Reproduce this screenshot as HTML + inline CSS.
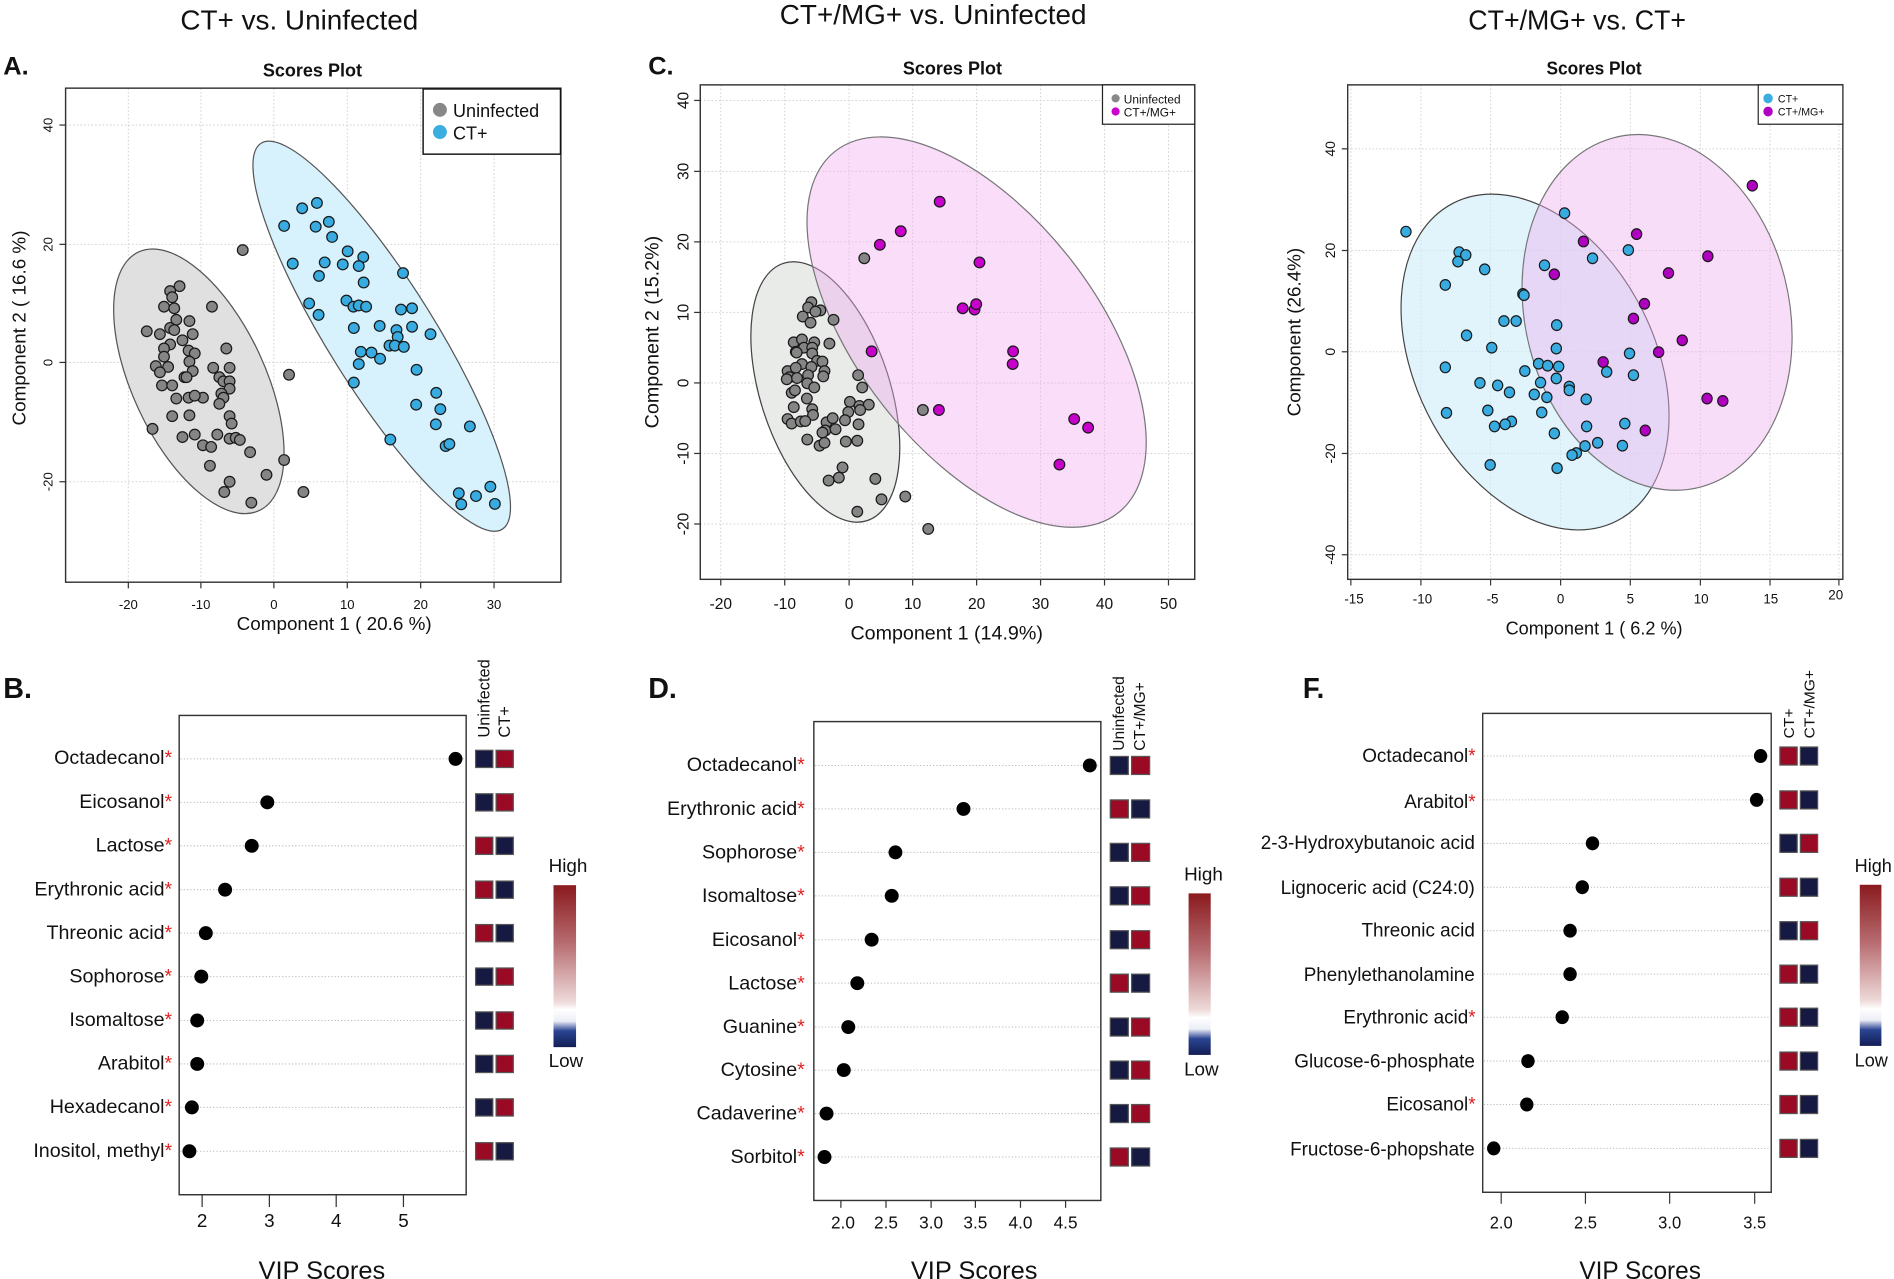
<!DOCTYPE html>
<html><head><meta charset="utf-8"><style>
html,body{margin:0;padding:0;background:#fff}
svg{display:block}
text{font-family:"Liberation Sans",sans-serif;fill:#111}
.grid{stroke:#d4d4d4;stroke-width:2.5;stroke-dasharray:4 5}
.row{stroke:#bbb;stroke-width:2.5;stroke-dasharray:3 5}
.box{fill:none;stroke:#333;stroke-width:3.5}
.red{fill:#e02020}
</style></head><body>
<svg id="s" width="1894" height="1279" viewBox="0 0 1894 1279" xmlns="http://www.w3.org/2000/svg">
<defs>
<linearGradient id="cb" x1="0" y1="0" x2="0" y2="1">
<stop offset="0" stop-color="#8a1a1e"/><stop offset="0.35" stop-color="#b66a6e"/>
<stop offset="0.72" stop-color="#eedada"/><stop offset="0.77" stop-color="#ffffff"/>
<stop offset="0.84" stop-color="#eceef6"/><stop offset="0.86" stop-color="#aab3d4"/>
<stop offset="0.9" stop-color="#2b4592"/><stop offset="1" stop-color="#121d55"/>
</linearGradient>
</defs>

<!-- Panel A -->
<g transform="translate(0,0) scale(0.41)" id="gA">
<text x="730" y="72" font-size="68" text-anchor="middle">CT+ vs. Uninfected</text>
<text x="8" y="182" font-size="62" font-weight="bold">A.</text>
<text x="762" y="186" font-size="44" font-weight="bold" text-anchor="middle">Scores Plot</text>
<g class="grid">
<line x1="313" y1="215" x2="313" y2="1420"/><line x1="490" y1="215" x2="490" y2="1420"/><line x1="668" y1="215" x2="668" y2="1420"/><line x1="847" y1="215" x2="847" y2="1420"/><line x1="1026" y1="215" x2="1026" y2="1420"/><line x1="1205" y1="215" x2="1205" y2="1420"/>
<line x1="160" y1="305" x2="1368" y2="305"/><line x1="160" y1="596" x2="1368" y2="596"/><line x1="160" y1="884" x2="1368" y2="884"/><line x1="160" y1="1175" x2="1368" y2="1175"/>
</g>
<ellipse cx="485" cy="930" rx="348" ry="162" transform="rotate(65 485 930)" fill="#e0e0e0" stroke="#555" stroke-width="3"/>
<ellipse cx="931" cy="820" rx="555" ry="130" transform="rotate(58 931 820)" fill="#d8f2fd" stroke="#555" stroke-width="3"/>
<g id="pA"></g>
<rect x="160" y="215" width="1208" height="1205" class="box"/>
<g stroke="#333" stroke-width="3"><line x1="313" y1="1420" x2="313" y2="1435"/><line x1="490" y1="1420" x2="490" y2="1435"/><line x1="668" y1="1420" x2="668" y2="1435"/><line x1="847" y1="1420" x2="847" y2="1435"/><line x1="1026" y1="1420" x2="1026" y2="1435"/><line x1="1205" y1="1420" x2="1205" y2="1435"/>
<line x1="145" y1="305" x2="160" y2="305"/><line x1="145" y1="596" x2="160" y2="596"/><line x1="145" y1="884" x2="160" y2="884"/><line x1="145" y1="1175" x2="160" y2="1175"/></g>
<g font-size="32" text-anchor="middle">
<text x="313" y="1485">-20</text><text x="490" y="1485">-10</text><text x="668" y="1485">0</text><text x="847" y="1485">10</text><text x="1026" y="1485">20</text><text x="1205" y="1485">30</text>
<text transform="translate(128,305) rotate(-90)">40</text><text transform="translate(128,596) rotate(-90)">20</text><text transform="translate(128,884) rotate(-90)">0</text><text transform="translate(128,1175) rotate(-90)">-20</text>
</g>
<text x="815" y="1537" font-size="46" text-anchor="middle">Component 1 ( 20.6 %)</text>
<text transform="translate(62,800) rotate(-90)" font-size="46" text-anchor="middle">Component 2 ( 16.6 %)</text>
<rect x="1032" y="217" width="335" height="159" fill="#fff" stroke="#111" stroke-width="3.5"/>
<circle cx="1073" cy="268" r="17" fill="#888"/><text x="1105" y="285" font-size="44">Uninfected</text>
<circle cx="1073" cy="322" r="17" fill="#3aaee0"/><text x="1105" y="340" font-size="44">CT+</text>
</g>

<!-- Panel B -->
<g transform="translate(0,640) scale(0.41)">
<text x="8" y="142" font-size="70" font-weight="bold">B.</text>
<g id="vB"></g>
<rect x="437" y="184" width="700" height="1169" class="box"/>
<g stroke="#333" stroke-width="3"><line x1="493" y1="1353" x2="493" y2="1383"/><line x1="657" y1="1353" x2="657" y2="1383"/><line x1="820" y1="1353" x2="820" y2="1383"/><line x1="984" y1="1353" x2="984" y2="1383"/></g>
<g font-size="46" text-anchor="middle"><text x="493" y="1432">2</text><text x="657" y="1432">3</text><text x="820" y="1432">4</text><text x="984" y="1432">5</text></g>
<text x="785" y="1558" font-size="62" text-anchor="middle">VIP Scores</text>
<g font-size="48" text-anchor="end">
<text x="420" y="303">Octadecanol<tspan class="red">*</tspan></text>
<text x="420" y="410">Eicosanol<tspan class="red">*</tspan></text>
<text x="420" y="516">Lactose<tspan class="red">*</tspan></text>
<text x="420" y="623">Erythronic acid<tspan class="red">*</tspan></text>
<text x="420" y="729">Threonic acid<tspan class="red">*</tspan></text>
<text x="420" y="835">Sophorose<tspan class="red">*</tspan></text>
<text x="420" y="942">Isomaltose<tspan class="red">*</tspan></text>
<text x="420" y="1048">Arabitol<tspan class="red">*</tspan></text>
<text x="420" y="1154">Hexadecanol<tspan class="red">*</tspan></text>
<text x="420" y="1261">Inositol, methyl<tspan class="red">*</tspan></text>
</g>
<g font-size="40"><text transform="translate(1194,238) rotate(-90)">Uninfected</text><text transform="translate(1244,238) rotate(-90)">CT+</text></g>
<rect x="1350" y="598" width="55" height="395" fill="url(#cb)"/>
<text x="1338" y="566" font-size="46">High</text><text x="1338" y="1042" font-size="46">Low</text>
</g>

<!-- Panel C -->
<g transform="translate(640,0) scale(0.41)">
<text x="715" y="58" font-size="68" text-anchor="middle">CT+/MG+ vs. Uninfected</text>
<text x="20" y="182" font-size="62" font-weight="bold">C.</text>
<text x="762" y="182" font-size="44" font-weight="bold" text-anchor="middle">Scores Plot</text>
<g class="grid">
<line x1="197" y1="207" x2="197" y2="1413"/><line x1="353" y1="207" x2="353" y2="1413"/><line x1="510" y1="207" x2="510" y2="1413"/><line x1="665" y1="207" x2="665" y2="1413"/><line x1="821" y1="207" x2="821" y2="1413"/><line x1="977" y1="207" x2="977" y2="1413"/><line x1="1133" y1="207" x2="1133" y2="1413"/><line x1="1289" y1="207" x2="1289" y2="1413"/>
<line x1="147" y1="245" x2="1353" y2="245"/><line x1="147" y1="418" x2="1353" y2="418"/><line x1="147" y1="590" x2="1353" y2="590"/><line x1="147" y1="762" x2="1353" y2="762"/><line x1="147" y1="934" x2="1353" y2="934"/><line x1="147" y1="1106" x2="1353" y2="1106"/><line x1="147" y1="1278" x2="1353" y2="1278"/>
</g>
<ellipse cx="452" cy="956" rx="330" ry="158" transform="rotate(72 452 956)" fill="#e9ebe9" stroke="#444" stroke-width="3"/>
<ellipse cx="821" cy="810" rx="560" ry="290" transform="rotate(52 821 810)" fill="rgba(240,175,240,0.42)" stroke="#777" stroke-width="3"/>
<g id="pC"></g>
<rect x="147" y="207" width="1206" height="1206" class="box"/>
<g stroke="#333" stroke-width="3"><line x1="197" y1="1413" x2="197" y2="1428"/><line x1="353" y1="1413" x2="353" y2="1428"/><line x1="510" y1="1413" x2="510" y2="1428"/><line x1="665" y1="1413" x2="665" y2="1428"/><line x1="821" y1="1413" x2="821" y2="1428"/><line x1="977" y1="1413" x2="977" y2="1428"/><line x1="1133" y1="1413" x2="1133" y2="1428"/><line x1="1289" y1="1413" x2="1289" y2="1428"/>
<line x1="132" y1="245" x2="147" y2="245"/><line x1="132" y1="418" x2="147" y2="418"/><line x1="132" y1="590" x2="147" y2="590"/><line x1="132" y1="762" x2="147" y2="762"/><line x1="132" y1="934" x2="147" y2="934"/><line x1="132" y1="1106" x2="147" y2="1106"/><line x1="132" y1="1278" x2="147" y2="1278"/></g>
<g font-size="38" text-anchor="middle">
<text x="197" y="1485">-20</text><text x="353" y="1485">-10</text><text x="510" y="1485">0</text><text x="665" y="1485">10</text><text x="821" y="1485">20</text><text x="977" y="1485">30</text><text x="1133" y="1485">40</text><text x="1289" y="1485">50</text>
<text transform="translate(118,245) rotate(-90)">40</text><text transform="translate(118,418) rotate(-90)">30</text><text transform="translate(118,590) rotate(-90)">20</text><text transform="translate(118,762) rotate(-90)">10</text><text transform="translate(118,934) rotate(-90)">0</text><text transform="translate(118,1106) rotate(-90)">-10</text><text transform="translate(118,1278) rotate(-90)">-20</text>
</g>
<text x="748" y="1560" font-size="48" text-anchor="middle">Component 1 (14.9%)</text>
<text transform="translate(45,810) rotate(-90)" font-size="48" text-anchor="middle">Component 2 (15.2%)</text>
<rect x="1128" y="207" width="225" height="96" fill="#fff" stroke="#222" stroke-width="3"/>
<circle cx="1160" cy="240" r="10" fill="#888"/><text x="1180" y="252" font-size="29">Uninfected</text>
<circle cx="1160" cy="272" r="10" fill="#cc00cc"/><text x="1180" y="284" font-size="29">CT+/MG+</text>
</g>

<!-- Panel D -->
<g transform="translate(640,640) scale(0.41)">
<text x="20" y="142" font-size="70" font-weight="bold">D.</text>
<g id="vD"></g>
<rect x="424" y="199" width="700" height="1168" class="box"/>
<g stroke="#333" stroke-width="3"><line x1="490" y1="1367" x2="490" y2="1385"/><line x1="600" y1="1367" x2="600" y2="1385"/><line x1="710" y1="1367" x2="710" y2="1385"/><line x1="818" y1="1367" x2="818" y2="1385"/><line x1="928" y1="1367" x2="928" y2="1385"/><line x1="1038" y1="1367" x2="1038" y2="1385"/></g>
<g font-size="42" text-anchor="middle"><text x="495" y="1435">2.0</text><text x="600" y="1435">2.5</text><text x="710" y="1435">3.0</text><text x="818" y="1435">3.5</text><text x="928" y="1435">4.0</text><text x="1038" y="1435">4.5</text></g>
<text x="815" y="1558" font-size="62" text-anchor="middle">VIP Scores</text>
<g font-size="48" text-anchor="end">
<text x="402" y="320">Octadecanol<tspan class="red">*</tspan></text>
<text x="402" y="427">Erythronic acid<tspan class="red">*</tspan></text>
<text x="402" y="533">Sophorose<tspan class="red">*</tspan></text>
<text x="402" y="639">Isomaltose<tspan class="red">*</tspan></text>
<text x="402" y="746">Eicosanol<tspan class="red">*</tspan></text>
<text x="402" y="852">Lactose<tspan class="red">*</tspan></text>
<text x="402" y="959">Guanine<tspan class="red">*</tspan></text>
<text x="402" y="1064">Cytosine<tspan class="red">*</tspan></text>
<text x="402" y="1170">Cadaverine<tspan class="red">*</tspan></text>
<text x="402" y="1276">Sorbitol<tspan class="red">*</tspan></text>
</g>
<g font-size="38"><text transform="translate(1180,270) rotate(-90)">Uninfected</text><text transform="translate(1232,270) rotate(-90)">CT+/MG+</text></g>
<rect x="1338" y="618" width="54" height="394" fill="url(#cb)"/>
<text x="1327" y="586" font-size="46">High</text><text x="1327" y="1062" font-size="46">Low</text>
</g>

<!-- Panel E -->
<g transform="translate(1280,0) scale(0.3936,0.41)">
<text x="755" y="72" font-size="68" text-anchor="middle">CT+/MG+ vs. CT+</text>
<text x="798" y="182" font-size="44" font-weight="bold" text-anchor="middle">Scores Plot</text>
<g class="grid">
<line x1="180" y1="207" x2="180" y2="1413"/><line x1="358" y1="207" x2="358" y2="1413"/><line x1="535" y1="207" x2="535" y2="1413"/><line x1="713" y1="207" x2="713" y2="1413"/><line x1="890" y1="207" x2="890" y2="1413"/><line x1="1068" y1="207" x2="1068" y2="1413"/><line x1="1245" y1="207" x2="1245" y2="1413"/><line x1="1420" y1="207" x2="1420" y2="1413"/>
<line x1="172" y1="363" x2="1430" y2="363"/><line x1="172" y1="611" x2="1430" y2="611"/><line x1="172" y1="858" x2="1430" y2="858"/><line x1="172" y1="1106" x2="1430" y2="1106"/><line x1="172" y1="1353" x2="1430" y2="1353"/>
</g>
<ellipse cx="648" cy="883" rx="440" ry="300" transform="rotate(60 648 883)" fill="rgba(205,237,250,0.6)" stroke="#444" stroke-width="3"/>
<ellipse cx="958" cy="762" rx="440" ry="335" transform="rotate(75 958 762)" fill="rgba(240,180,240,0.45)" stroke="#777" stroke-width="3"/>
<g id="pE"></g>
<rect x="172" y="207" width="1258" height="1206" class="box"/>
<g stroke="#333" stroke-width="3"><line x1="180" y1="1413" x2="180" y2="1428"/><line x1="358" y1="1413" x2="358" y2="1428"/><line x1="535" y1="1413" x2="535" y2="1428"/><line x1="713" y1="1413" x2="713" y2="1428"/><line x1="890" y1="1413" x2="890" y2="1428"/><line x1="1068" y1="1413" x2="1068" y2="1428"/><line x1="1245" y1="1413" x2="1245" y2="1428"/><line x1="1420" y1="1413" x2="1420" y2="1428"/>
<line x1="157" y1="363" x2="172" y2="363"/><line x1="157" y1="611" x2="172" y2="611"/><line x1="157" y1="858" x2="172" y2="858"/><line x1="157" y1="1106" x2="172" y2="1106"/><line x1="157" y1="1353" x2="172" y2="1353"/></g>
<g font-size="34" text-anchor="middle">
<text x="188" y="1472">-15</text><text x="362" y="1472">-10</text><text x="540" y="1472">-5</text><text x="713" y="1472">0</text><text x="890" y="1472">5</text><text x="1070" y="1472">10</text><text x="1247" y="1472">15</text><text x="1412" y="1462">20</text>
<text transform="translate(140,363) rotate(-90)">40</text><text transform="translate(140,611) rotate(-90)">20</text><text transform="translate(140,858) rotate(-90)">0</text><text transform="translate(140,1106) rotate(-90)">-20</text><text transform="translate(140,1353) rotate(-90)">-40</text>
</g>
<text x="798" y="1548" font-size="46" text-anchor="middle">Component 1 ( 6.2 %)</text>
<text transform="translate(52,810) rotate(-90)" font-size="46" text-anchor="middle">Component (26.4%)</text>
<rect x="1215" y="207" width="215" height="96" fill="#fff" stroke="#222" stroke-width="3"/>
<circle cx="1240" cy="240" r="12" fill="#3aaee0"/><text x="1265" y="250" font-size="27">CT+</text>
<circle cx="1240" cy="272" r="12" fill="#b000c0"/><text x="1265" y="282" font-size="27">CT+/MG+</text>
</g>

<!-- Panel F -->
<g transform="translate(1280,640) scale(0.3936,0.41)">
<text x="58" y="142" font-size="70" font-weight="bold">F.</text>
<g id="vF"></g>
<rect x="515" y="179" width="733" height="1168" class="box"/>
<g stroke="#333" stroke-width="3"><line x1="562" y1="1347" x2="562" y2="1375"/><line x1="776" y1="1347" x2="776" y2="1375"/><line x1="990" y1="1347" x2="990" y2="1375"/><line x1="1206" y1="1347" x2="1206" y2="1375"/></g>
<g font-size="42" text-anchor="middle"><text x="562" y="1435">2.0</text><text x="776" y="1435">2.5</text><text x="990" y="1435">3.0</text><text x="1206" y="1435">3.5</text></g>
<text x="915" y="1558" font-size="62" text-anchor="middle">VIP Scores</text>
<g font-size="48" text-anchor="end">
<text x="497" y="297">Octadecanol<tspan class="red">*</tspan></text>
<text x="497" y="410">Arabitol<tspan class="red">*</tspan></text>
<text x="495" y="510">2-3-Hydroxybutanoic acid</text>
<text x="495" y="620">Lignoceric acid (C24:0)</text>
<text x="495" y="723">Threonic acid</text>
<text x="495" y="832">Phenylethanolamine</text>
<text x="497" y="935">Erythronic acid<tspan class="red">*</tspan></text>
<text x="495" y="1043">Glucose-6-phosphate</text>
<text x="497" y="1148">Eicosanol<tspan class="red">*</tspan></text>
<text x="495" y="1257">Fructose-6-phopshate</text>
</g>
<g font-size="38"><text transform="translate(1306,240) rotate(-90)">CT+</text><text transform="translate(1358,240) rotate(-90)">CT+/MG+</text></g>
<rect x="1473" y="597" width="55" height="393" fill="url(#cb)"/>
<text x="1460" y="566" font-size="46">High</text><text x="1460" y="1040" font-size="46">Low</text>
</g>
</svg>
<script>
var NS="http://www.w3.org/2000/svg";
function c(g,x,y,r,f,sw){var e=document.createElementNS(NS,"circle");e.setAttribute("cx",x);e.setAttribute("cy",y);e.setAttribute("r",r);e.setAttribute("fill",f);e.setAttribute("stroke","#1a1a1a");e.setAttribute("stroke-width",sw);g.appendChild(e);}
function pts(id,arr,col,r){var g=document.getElementById(id);for(var i=0;i<arr.length;i+=2)c(g,arr[i],arr[i+1],r,col,3);}
var GRAY="#858585",BLUE="#38ace0",MAG="#c800cc",MAG2="#b000c0";
pts("pA",[592,610,517,748,438,698,415,710,420,725,400,748,425,752,358,808,390,815,430,780,415,800,425,805,462,783,470,815,445,830,415,840,400,850,460,855,475,862,400,870,380,893,410,895,462,882,470,905,520,897,560,897,552,850,390,908,395,940,420,940,450,920,455,920,535,920,545,930,560,930,560,948,540,960,460,970,495,970,475,965,430,972,545,970,535,985,420,1015,462,1013,560,1015,565,1033,372,1046,445,1066,475,1060,530,1060,560,1070,575,1068,585,1073,495,1086,515,1090,610,1103,512,1136,693,1122,650,1158,560,1175,547,1200,613,1226,740,1200,705,914],GRAY,13);
pts("pA",[693,551,737,508,773,495,770,553,802,541,810,578,714,643,792,640,778,673,836,645,848,613,886,627,875,649,887,689,983,666,754,740,777,768,845,733,862,748,875,745,893,748,978,755,1005,752,863,800,926,795,967,805,970,822,1005,797,1050,815,880,858,906,860,950,843,963,843,985,846,927,875,875,888,1016,902,863,933,1064,958,1015,987,1074,998,952,1072,1063,1035,1146,1040,1087,1088,1096,1083,1119,1203,1125,1230,1161,1210,1196,1187,1207,1229],BLUE,13);
pts("pC",[547,630,418,737,410,750,440,757,428,760,397,772,472,780,416,787,375,835,395,828,425,835,462,838,380,858,400,848,420,848,382,860,420,862,432,880,445,882,395,888,418,895,360,905,380,897,365,920,358,925,450,905,447,918,410,915,383,922,408,935,532,915,542,945,425,945,370,958,378,952,407,972,512,980,535,990,558,987,375,993,420,998,422,1012,537,1000,508,1005,360,1022,370,1033,392,1028,403,1027,455,1030,470,1020,500,1025,533,1035,452,1050,445,1055,477,1047,408,1072,502,1077,530,1075,438,1087,450,1080,494,1140,485,1165,460,1172,574,1168,589,1218,647,1211,530,1248,690,1000,703,1290],GRAY,13);
pts("pC",[731,492,636,564,585,597,828,640,787,752,816,755,820,742,565,857,910,857,909,888,729,1000,1059,1022,1093,1043,1023,1133],MAG,13);
pts("pE",[320,565,723,520,455,615,472,622,452,638,520,657,885,610,794,630,672,647,420,695,617,717,620,720,569,783,600,783,474,818,703,793,538,848,702,850,888,862,420,896,657,887,680,892,708,894,622,905,830,907,898,915,702,923,508,934,553,940,662,933,735,943,735,952,583,957,646,962,678,969,778,974,528,1001,665,1006,423,1007,588,1028,572,1035,545,1040,876,1033,779,1040,697,1057,807,1080,775,1088,870,1087,753,1105,742,1110,534,1134,704,1142],BLUE,13);
pts("pE",[1200,453,906,571,771,589,1087,625,697,669,987,666,926,741,898,777,1022,830,962,859,821,883,1085,972,1125,978,928,1050],MAG2,13);
function vip(id,rows,x0,x1,xs,pat,c1,sz){var g=document.getElementById(id);
for(var i=0;i<rows.length;i++){var y=rows[i];var l=document.createElementNS(NS,"line");l.setAttribute("x1",x0);l.setAttribute("x2",x1);l.setAttribute("y1",y);l.setAttribute("y2",y);l.setAttribute("class","row");g.appendChild(l);
var d=document.createElementNS(NS,"circle");d.setAttribute("cx",xs[i]);d.setAttribute("cy",y);d.setAttribute("r",17);d.setAttribute("fill","#000");g.appendChild(d);
for(var k=0;k<2;k++){var r=document.createElementNS(NS,"rect");r.setAttribute("x",c1+k*(sz+8));r.setAttribute("y",y-sz/2);r.setAttribute("width",sz);r.setAttribute("height",sz);r.setAttribute("fill",pat[i][k]=="R"?"#9a0a24":"#161a42");r.setAttribute("stroke","#555");r.setAttribute("stroke-width","3");g.appendChild(r);}}}
vip("vB",[290,396,502,609,715,821,928,1034,1140,1247],440,1135,[1111,652,614,549,502,491,481,481,468,462],["BR","BR","RB","RB","RB","BR","BR","BR","BR","RB"],1160,42);
vip("vD",[306,412,518,624,731,837,944,1049,1155,1261],427,1120,[1097,789,623,614,565,530,508,497,455,450],["BR","RB","BR","BR","BR","RB","BR","BR","BR","RB"],1147,44);
vip("vF",[283,390,496,603,709,815,920,1027,1133,1240],518,1245,[1221,1211,794,768,737,737,717,630,627,543],["RB","RB","BR","RB","BR","RB","RB","RB","RB","RB"],1270,44);
</script>
</body></html>
